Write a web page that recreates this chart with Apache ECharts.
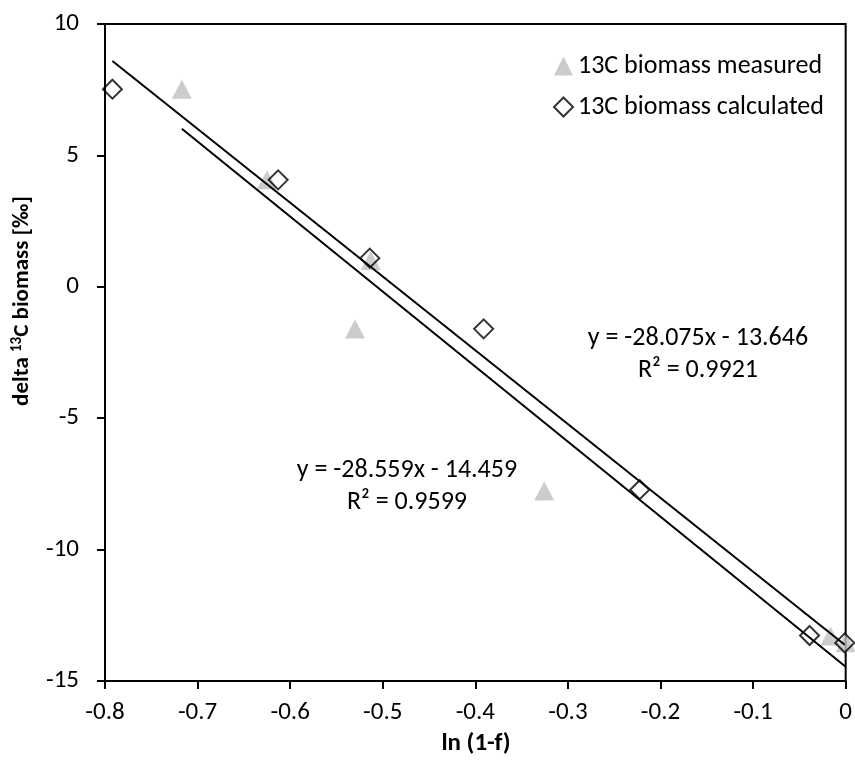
<!DOCTYPE html>
<html>
<head>
<meta charset="utf-8">
<script src="https://cdn.jsdelivr.net/npm/echarts@6/dist/echarts.min.js"></script>
<style>
html,body{margin:0;padding:0;background:#fff;}
#chart{width:855px;height:769px;}
</style>
</head>
<body>
<div id="chart"></div>
<script>
// ---- data ----
var seriesNames = ['13C biomass measured', '13C biomass calculated'];
var measuredX = [-0.717, -0.625, -0.513, -0.530, -0.3256, -0.0165, 0.0];
var measuredY = [7.52, 4.07, 1.00, -1.61, -7.77, -13.29, -13.54];
var calculatedX = [-0.792, -0.613, -0.514, -0.391, -0.2224, -0.039, -0.001];
var calculatedY = [7.52, 4.07, 1.09, -1.60, -7.72, -13.27, -13.55];
// trendline coefficients [slope, intercept, R2]
var trendMeasured = [-28.559, -14.459, 0.9599];
var trendCalculated = [-28.075, -13.646, 0.9921];
var xTicks = [-0.8, -0.7, -0.6, -0.5, -0.4, -0.3, -0.2, -0.1, 0];
var yTicks = [-15, -10, -5, 0, 5, 10];

var FONT = 'Carlito, Calibri, Lato, sans-serif';

function pairs(xs, ys){ return xs.map(function(x,i){ return [x, ys[i]]; }); }
function trendLine(xs, c){
  var lo = Math.min.apply(null, xs), hi = Math.max.apply(null, xs);
  return [[lo, c[0]*lo + c[1]], [hi, c[0]*hi + c[1]]];
}
function eqText(c){
  return 'y = ' + c[0].toFixed(3) + 'x ' + (c[1] < 0 ? '- ' : '+ ') + Math.abs(c[1]).toFixed(3) + '\nR² = ' + c[2].toFixed(4);
}

var chart = echarts.init(document.getElementById('chart'), null, {renderer:'canvas'});
var option = {
  animation: false,
  backgroundColor: '#fff',
  grid: { left: 105, right: 8, top: 24, bottom: 88, show: true, borderColor: '#000', borderWidth: 2, backgroundColor: 'transparent' },
  xAxis: {
    type: 'value', min: xTicks[0], max: xTicks[xTicks.length-1], interval: 0.1,
    axisLine: { show: true, onZero: false, lineStyle: { color: '#000', width: 2 } },
    axisTick: { show: true, inside: false, length: 8, lineStyle: { color: '#000', width: 2 } },
    splitLine: { show: false },
    axisLabel: { color: '#000', fontSize: 25, fontFamily: FONT, margin: 19,
      formatter: function(v){ var r = Math.round(v*10)/10; return r === 0 ? '0' : r.toFixed(1); } }
  },
  yAxis: {
    type: 'value', min: yTicks[0], max: yTicks[yTicks.length-1], interval: 5,
    axisLine: { show: true, onZero: false, lineStyle: { color: '#000', width: 2 } },
    axisTick: { show: true, inside: false, length: 8, lineStyle: { color: '#000', width: 2 } },
    splitLine: { show: false },
    axisLabel: { color: '#000', fontSize: 25, fontFamily: FONT, margin: 26 }
  },
  legend: {
    orient: 'vertical', left: 548, top: 48, itemWidth: 19, itemHeight: 19, itemGap: 15,
    textStyle: { color: '#000', fontSize: 26, fontFamily: FONT },
    data: [ { name: seriesNames[0], icon: 'triangle' }, { name: seriesNames[1], icon: 'diamond' } ],
    selectedMode: false
  },
  series: [
    { name: seriesNames[0], type: 'scatter', symbol: 'triangle', symbolSize: [20, 19], z: 2,
      itemStyle: { color: '#BFBFBF' }, data: pairs(measuredX, measuredY), emphasis: { disabled: true } },
    { name: seriesNames[1], type: 'scatter', symbol: 'diamond', symbolSize: 19, z: 3,
      itemStyle: { color: 'rgba(255,255,255,0)', borderColor: '#000', borderWidth: 2 },
      data: pairs(calculatedX, calculatedY), emphasis: { disabled: true } },
    { name: 'trend calculated', type: 'line', showSymbol: false, z: 4, silent: true,
      lineStyle: { color: '#000', width: 2 }, data: trendLine(calculatedX, trendCalculated) },
    { name: 'trend measured', type: 'line', showSymbol: false, z: 4, silent: true,
      lineStyle: { color: '#000', width: 2 }, data: trendLine(measuredX, trendMeasured) }
  ],
  graphic: [
    { type: 'text', x: 698, y: 354, style: { text: eqText(trendCalculated), align: 'center', verticalAlign: 'middle', fontSize: 26, lineHeight: 32, fontFamily: FONT, fill: '#000' } },
    { type: 'text', x: 407, y: 486, style: { text: eqText(trendMeasured), align: 'center', verticalAlign: 'middle', fontSize: 26, lineHeight: 32, fontFamily: FONT, fill: '#000' } },
    { type: 'text', x: 476, y: 744, style: { text: 'ln (1-f)', align: 'center', verticalAlign: 'middle', fontSize: 25, fontWeight: 'bold', fontFamily: FONT, fill: '#000' } },
    { type: 'text', x: 22, y: 301, rotation: Math.PI/2,
      style: { text: '{b|delta }{s|13}{b|C biomass [‰]}', align: 'center', verticalAlign: 'middle', fontFamily: FONT, fill: '#000',
        rich: { b: { fontSize: 23, fontWeight: 'bold', fontFamily: FONT, fill: '#000', lineHeight: 26 },
                s: { fontSize: 15, fontWeight: 'bold', fontFamily: FONT, fill: '#000', lineHeight: 26, padding: [0,0,9,0] } } } }
  ]
};
chart.setOption(option);
</script>
</body>
</html>
